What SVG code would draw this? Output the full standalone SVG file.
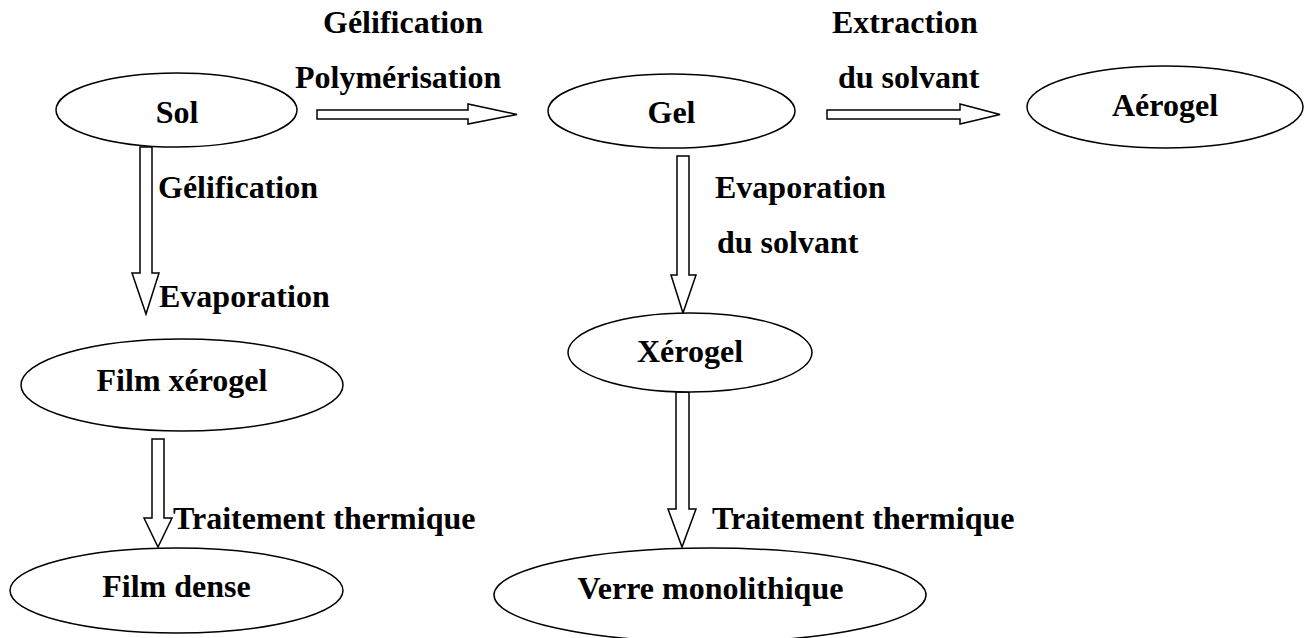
<svg xmlns="http://www.w3.org/2000/svg" width="1304" height="638" viewBox="0 0 1304 638">
<style>
.n{fill:#fff;stroke:#000;stroke-width:1.5}
.t{font-family:"Liberation Serif","Times New Roman",serif;font-weight:bold;font-size:32px;fill:#000}
.m{text-anchor:middle}
.a{fill:#fff;stroke:#000;stroke-width:1.5;stroke-linejoin:miter}
</style>
<rect width="1304" height="638" fill="#fff"/>
<g id="connectors">
<polygon class="a" points="317,110 468,110 468,104 517,114.5 468,124 468,119 317,119"/>
<polygon class="a" points="827,110 960,110 960,104 1000,114.5 960,124 960,119 827,119"/>
<polygon class="a" points="140,147 152,147 152,273 159,273 146,314 132,273 140,273"/>
<polygon class="a" points="677,156 689,156 689,275 696,275 683,313 671,275 677,275"/>
<polygon class="a" points="152,439 164,439 164,518 172,518 158,547 144,518 152,518"/>
<polygon class="a" points="676,392 689,392 689,509 696,509 682,547 668,509 676,509"/>
<text class="t" x="323" y="33">Gélification</text>
<text class="t" x="295" y="88">Polymérisation</text>
<text class="t" x="832" y="33">Extraction</text>
<text class="t" x="838" y="88">du solvant</text>
<text class="t" x="158" y="198">Gélification</text>
<text class="t" x="159" y="307">Evaporation</text>
<text class="t" x="715" y="198">Evaporation</text>
<text class="t" x="717" y="253">du solvant</text>
<text class="t" x="173" y="529">Traitement thermique</text>
<text class="t" x="712" y="529">Traitement thermique</text>
</g>
<g id="sol"><ellipse class="n" cx="176.5" cy="110" rx="120.5" ry="37"/><text class="t m" x="177" y="123">Sol</text></g>
<g id="gel"><ellipse class="n" cx="671.5" cy="111" rx="123.5" ry="37"/><text class="t m" x="671.5" y="123">Gel</text></g>
<g id="aerogel"><ellipse class="n" cx="1165" cy="107" rx="138" ry="41"/><text class="t m" x="1165" y="116">Aérogel</text></g>
<g id="xerogel"><ellipse class="n" cx="690" cy="352.5" rx="122" ry="39.5"/><text class="t m" x="690" y="362">Xérogel</text></g>
<g id="film-xerogel"><ellipse class="n" cx="182" cy="385" rx="161" ry="46"/><text class="t m" x="182" y="391">Film xérogel</text></g>
<g id="film-dense"><ellipse class="n" cx="176.5" cy="590.5" rx="166.5" ry="42.5"/><text class="t m" x="176.5" y="597">Film dense</text></g>
<g id="verre"><ellipse class="n" cx="710" cy="595" rx="216" ry="47"/><text class="t m" x="710.5" y="599">Verre monolithique</text></g>
</svg>
